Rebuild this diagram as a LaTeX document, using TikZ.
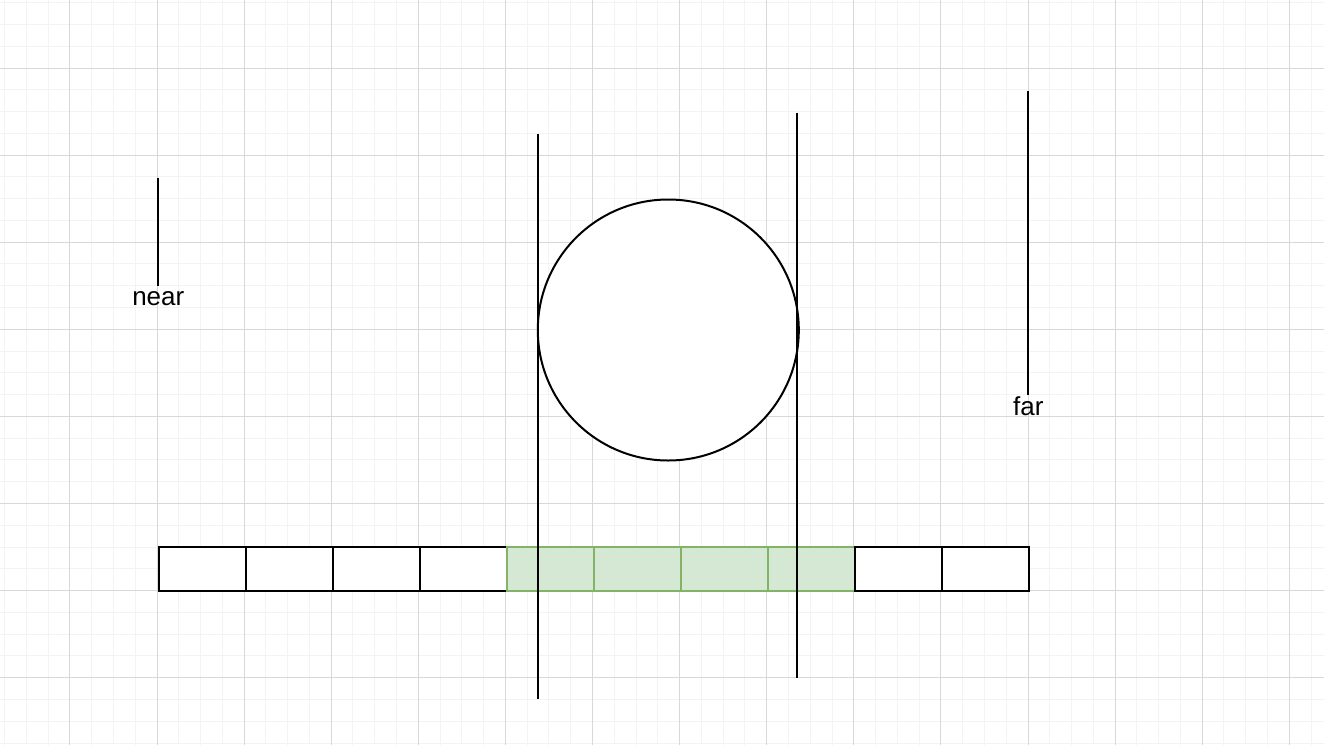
\documentclass[tikz,border=0pt]{standalone}
\usepackage{fontspec}
\setmainfont{Liberation Sans}
\definecolor{minorc}{HTML}{F3F3F3}
\definecolor{majorc}{HTML}{D8D8D8}
\definecolor{cellfill}{HTML}{D5E8D4}
\definecolor{cellline}{HTML}{82B366}
\tikzset{
  minorgrid/.style={draw=minorc, line width=0.5pt},
  majorgrid/.style={draw=majorc, line width=0.5pt},
  cellbox/.style={draw=black, fill=white, line width=1pt, rectangle, inner sep=0pt, minimum width=43.5pt, minimum height=21.75pt},
  greenbox/.style={cellbox, draw=cellline, fill=cellfill},
  bar/.style={draw=black, line width=1pt},
  lbl/.style={font=\fontsize{13}{15}\selectfont, inner sep=0pt, anchor=base}
}
\begin{document}
\begin{tikzpicture}[x=0.5pt, y=-0.5pt]
\useasboundingbox[fill=white] (0,0) rectangle (1324,745);
% grid
\foreach \i in {-3,...,57} {\draw[minorgrid] ({69.9+21.775*\i},0) -- ({69.9+21.775*\i},745);}
\foreach \j in {-3,...,31} {\draw[minorgrid] (0,{68+21.775*\j}) -- (1324,{68+21.775*\j});}
\foreach \k in {0,...,14} {\draw[majorgrid] ({69.9+87.1*\k},0) -- ({69.9+87.1*\k},745);}
\foreach \k in {0,...,7} {\draw[majorgrid] (0,{68+87.1*\k}) -- (1324,{68+87.1*\k});}
% cells
\foreach \k/\st in {0/cellbox,1/cellbox,2/cellbox,3/cellbox,4/greenbox,5/greenbox,6/greenbox,7/greenbox,8/cellbox,9/cellbox} {
  \node[\st] (c\k) at ({202.8+87*\k},569) {};
}
% circle
\node[circle, draw=black, fill=white, line width=1pt, inner sep=0pt, minimum size=130.5pt] (ball) at (668.3,330) {};
% vertical lines
\coordinate (la) at (537.8,134);
\coordinate (lb) at (537.8,699);
\coordinate (ra) at (796.7,112.7);
\coordinate (rb) at (796.7,677.7);
\draw[bar] (la) -- (lb);
\draw[bar] (ra) -- (rb);
% near / far
\node[lbl] (near) at (158.3,305) {near};
\coordinate (nt) at (157.7,177.7);
\coordinate (nb) at (157.7,285.5);
\draw[bar] (nt) -- (nb);
\node[lbl] (far) at (1028.3,415) {far};
\coordinate (ft) at (1027.5,91);
\coordinate (fb) at (1027.5,395);
\draw[bar] (ft) -- (fb);
\end{tikzpicture}
\end{document}
